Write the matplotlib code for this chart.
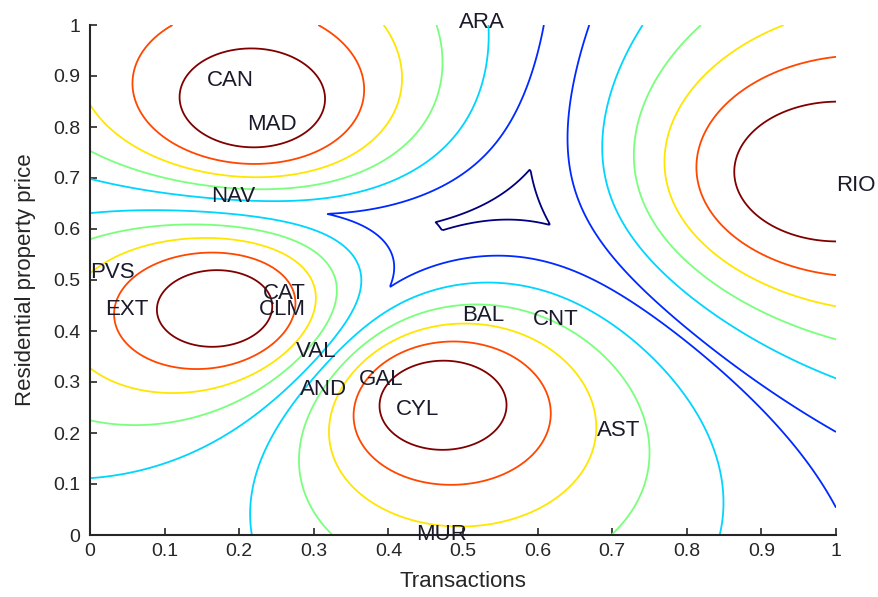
import numpy as np
import matplotlib.pyplot as plt
from matplotlib.colors import Normalize

# fuzzy cluster centres (Transactions, Residential property price)
center_x = [0.22, 0.176, 0.463, 0.98]
center_y = [0.84, 0.446, 0.265, 0.705]
fuzziness = 2.05
levels = [0.3, 0.4, 0.5, 0.6, 0.7, 0.8, 0.9]

# region labels and their positions
regions = ['ARA', 'CAN', 'MAD', 'NAV', 'RIO', 'PVS', 'EXT', 'CAT', 'CLM',
           'VAL', 'AND', 'GAL', 'CYL', 'BAL', 'CNT', 'AST', 'MUR']
transactions = [0.495, 0.157, 0.21, 0.162, 1.0, 0.0, 0.02, 0.232, 0.227,
                0.276, 0.282, 0.361, 0.41, 0.499, 0.594, 0.68, 0.437]
prices = [1.005, 0.892, 0.804, 0.663, 0.686, 0.514, 0.443, 0.473, 0.443,
          0.359, 0.286, 0.304, 0.247, 0.43, 0.422, 0.204, 0.0]

# max membership over the grid
gx = np.linspace(0, 1, 500)
gy = np.linspace(0, 1, 500)
X, Y = np.meshgrid(gx, gy)
cx = np.array(center_x)[:, None, None]
cy = np.array(center_y)[:, None, None]
dist = np.sqrt((X - cx) ** 2 + (Y - cy) ** 2) + 1e-9
inv = dist ** (-2.0 / (fuzziness - 1.0))
Z = (inv / inv.sum(axis=0)).max(axis=0)

fig = plt.figure(figsize=(8.79, 5.97), dpi=100)
ax = fig.add_axes([90 / 879, 62 / 597, 746 / 879, 510 / 597])

ax.contour(X, Y, Z, levels=levels, cmap='jet', norm=Normalize(0.3, 0.9),
           linewidths=1.3)

for name, x, y in zip(regions, transactions, prices):
    ax.text(x, y, name, ha='left', va='center', fontsize=16,
            family='Liberation Sans', color='#1a1a2a')

ax.set_xlim(0, 1)
ax.set_ylim(0, 1)
ax.set_xticks(np.arange(0, 1.01, 0.1))
ax.set_yticks(np.arange(0, 1.01, 0.1))
ax.set_xticklabels(['0', '0.1', '0.2', '0.3', '0.4', '0.5', '0.6', '0.7', '0.8', '0.9', '1'])
ax.set_yticklabels(['0', '0.1', '0.2', '0.3', '0.4', '0.5', '0.6', '0.7', '0.8', '0.9', '1'])
for s in ['top', 'right']:
    ax.spines[s].set_visible(False)
for s in ['left', 'bottom']:
    ax.spines[s].set_linewidth(1.5)
    ax.spines[s].set_color('#262626')
ax.tick_params(direction='in', length=5, width=1.2, labelsize=14, colors='#262626')
ax.tick_params(axis='y', pad=7)
ax.tick_params(axis='x', pad=6)
for lab in ax.get_xticklabels() + ax.get_yticklabels():
    lab.set_family('Liberation Sans')
ax.set_xlabel('Transactions', fontsize=16, family='Liberation Sans', color='#262626',
              labelpad=8)
ax.set_ylabel('Residential property price', fontsize=16, family='Liberation Sans',
              color='#262626', labelpad=12)

fig.savefig('out.png', dpi=100)
